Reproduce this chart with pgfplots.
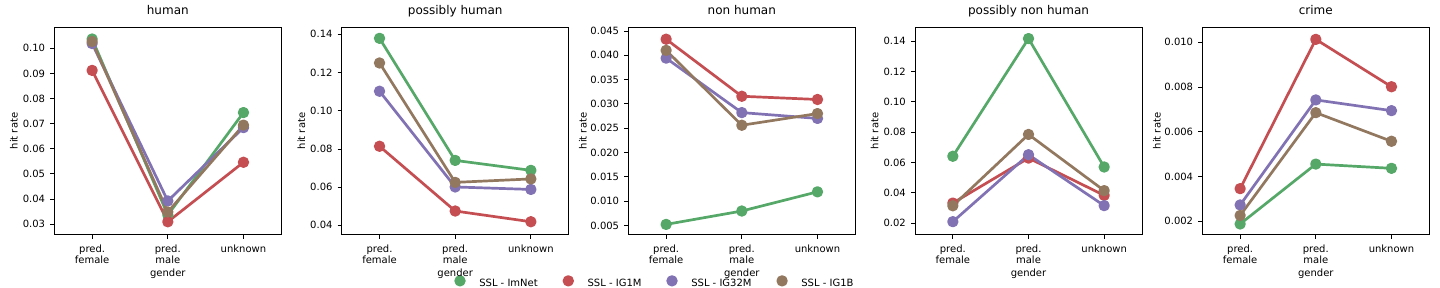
\documentclass[border=0pt]{standalone}
\usepackage{fontspec}
\setmainfont{DejaVu Sans}
\usepackage{pgfplots}
\pgfplotsset{compat=1.18}
\definecolor{cg}{HTML}{55A868}
\definecolor{cr}{HTML}{C44E52}
\definecolor{cp}{HTML}{8172B3}
\definecolor{cb}{HTML}{937860}
\definecolor{tx}{HTML}{000000}
\pgfplotsset{
  panel/.style={
    anchor=south west, scale only axis, width=227bp, height=207.4bp,
    xmin=-0.5, xmax=2.5, xtick={0,1,2},
    xticklabels={{pred.\\female},{pred.\\male},{unknown}},
    tick align=outside, xtick pos=bottom, ytick pos=left,
    major tick length=4bp,
    tick style={line width=0.8bp, tx},
    axis line style={line width=0.8bp, tx},
    ticklabel style={font=\fontsize{10bp}{11.5bp}\selectfont, text=tx},
    xticklabel style={align=center, inner sep=0pt, anchor=north, yshift=-5.6bp},
    yticklabel style={inner sep=0pt, anchor=east, xshift=-5bp},
    /pgf/number format/assume math mode=true,
    scaled y ticks=false,
    title style={font=\fontsize{12bp}{14bp}\selectfont, at={(axis description cs:0.5,1)}, anchor=base, yshift=6.6bp, inner sep=0pt},
    xlabel=gender, ylabel=hit rate,
    label style={font=\fontsize{10bp}{12bp}\selectfont, text=tx},
    xlabel style={at={(axis description cs:0.5,0)}, anchor=base, yshift=-41.8bp, inner sep=0pt},
    every axis plot/.append style={line width=2.7bp, line join=round, mark=*, mark size=4.3bp, mark options={solid}},
  },
  two/.style={yticklabel style={/pgf/number format/fixed, /pgf/number format/fixed zerofill, /pgf/number format/precision=2},
    ylabel style={at={(axis description cs:-0.178,0.5)}, anchor=center}},
  three/.style={yticklabel style={/pgf/number format/fixed, /pgf/number format/fixed zerofill, /pgf/number format/precision=3},
    ylabel style={at={(axis description cs:-0.2,0.5)}, anchor=center}},
}
\begin{document}
\begin{tikzpicture}
\path[use as bounding box] (0,0) rectangle (1440bp,288bp);

% human
\begin{axis}[panel, two, at={(54.3bp,53.3bp)}, title={human},
  ymin=0.02575, ymax=0.10837, ytick={0.03,0.04,0.05,0.06,0.07,0.08,0.09,0.10},
  legend columns=4,
  legend image code/.code={\path[draw=none,fill=none] (-30.5bp,2.7bp) -- (19.3bp,2.7bp); \draw[#1] plot coordinates {(0bp,2.7bp)};},
  legend style={draw=none, fill=none, inner sep=0pt, outer sep=0pt,
    column sep=0pt, row sep=0pt,
    at={(axis description cs:1.6529,-0.2295)}, anchor=west,
    font=\fontsize{10bp}{12bp}\selectfont, text=tx,
    nodes={inner sep=0pt},
    /tikz/every odd column/.style={column sep=0pt},
    /tikz/every even column/.style={column sep=0pt}},
]
\addplot[cg] coordinates {(0,0.1037) (1,0.0336) (2,0.0744)};
\addplot[cr] coordinates {(0,0.0912) (1,0.0309) (2,0.0546)};
\addplot[cp] coordinates {(0,0.1019) (1,0.0392) (2,0.0684)};
\addplot[cb] coordinates {(0,0.1027) (1,0.0348) (2,0.0694)};
\legend{SSL - ImNet, SSL - IG1M, SSL - IG32M, SSL - IG1B}
\end{axis}

% possibly human
\begin{axis}[panel, two, at={(341.7bp,53.3bp)}, title={possibly human},
  ymin=0.03511, ymax=0.14367, ytick={0.04,0.06,0.08,0.10,0.12,0.14}]
\addplot[cg] coordinates {(0,0.1379) (1,0.0740) (2,0.0688)};
\addplot[cr] coordinates {(0,0.0814) (1,0.0475) (2,0.0419)};
\addplot[cp] coordinates {(0,0.1102) (1,0.0601) (2,0.0588)};
\addplot[cb] coordinates {(0,0.1250) (1,0.0625) (2,0.0643)};
\end{axis}

% non human
\begin{axis}[panel, three, at={(628.3bp,53.3bp)}, title={non human},
  ymin=0.00308, ymax=0.04575, ytick={0.005,0.010,0.015,0.020,0.025,0.030,0.035,0.040,0.045}]
\addplot[cg] coordinates {(0,0.0052) (1,0.00795) (2,0.0119)};
\addplot[cr] coordinates {(0,0.0433) (1,0.03156) (2,0.0309)};
\addplot[cp] coordinates {(0,0.0394) (1,0.0282) (2,0.0270)};
\addplot[cb] coordinates {(0,0.0410) (1,0.0256) (2,0.0280)};
\end{axis}

% possibly non human
\begin{axis}[panel, two, at={(915bp,53.3bp)}, title={possibly non human},
  ymin=0.0123, ymax=0.14925, ytick={0.02,0.04,0.06,0.08,0.10,0.12,0.14}]
\addplot[cg] coordinates {(0,0.0641) (1,0.1418) (2,0.0570)};
\addplot[cr] coordinates {(0,0.0332) (1,0.0629) (2,0.0383)};
\addplot[cp] coordinates {(0,0.0209) (1,0.0651) (2,0.0315)};
\addplot[cb] coordinates {(0,0.0314) (1,0.0785) (2,0.0414)};
\end{axis}

% crime
\begin{axis}[panel, three, at={(1202.3bp,53.3bp)}, title={crime},
  ymin=0.00139, ymax=0.01067, ytick={0.002,0.004,0.006,0.008,0.010}]
\addplot[cg] coordinates {(0,0.00187) (1,0.00455) (2,0.00436)};
\addplot[cr] coordinates {(0,0.00345) (1,0.01013) (2,0.00801)};
\addplot[cp] coordinates {(0,0.00272) (1,0.00742) (2,0.00694)};
\addplot[cb] coordinates {(0,0.00225) (1,0.00685) (2,0.00557)};
\end{axis}
\end{tikzpicture}
\end{document}
